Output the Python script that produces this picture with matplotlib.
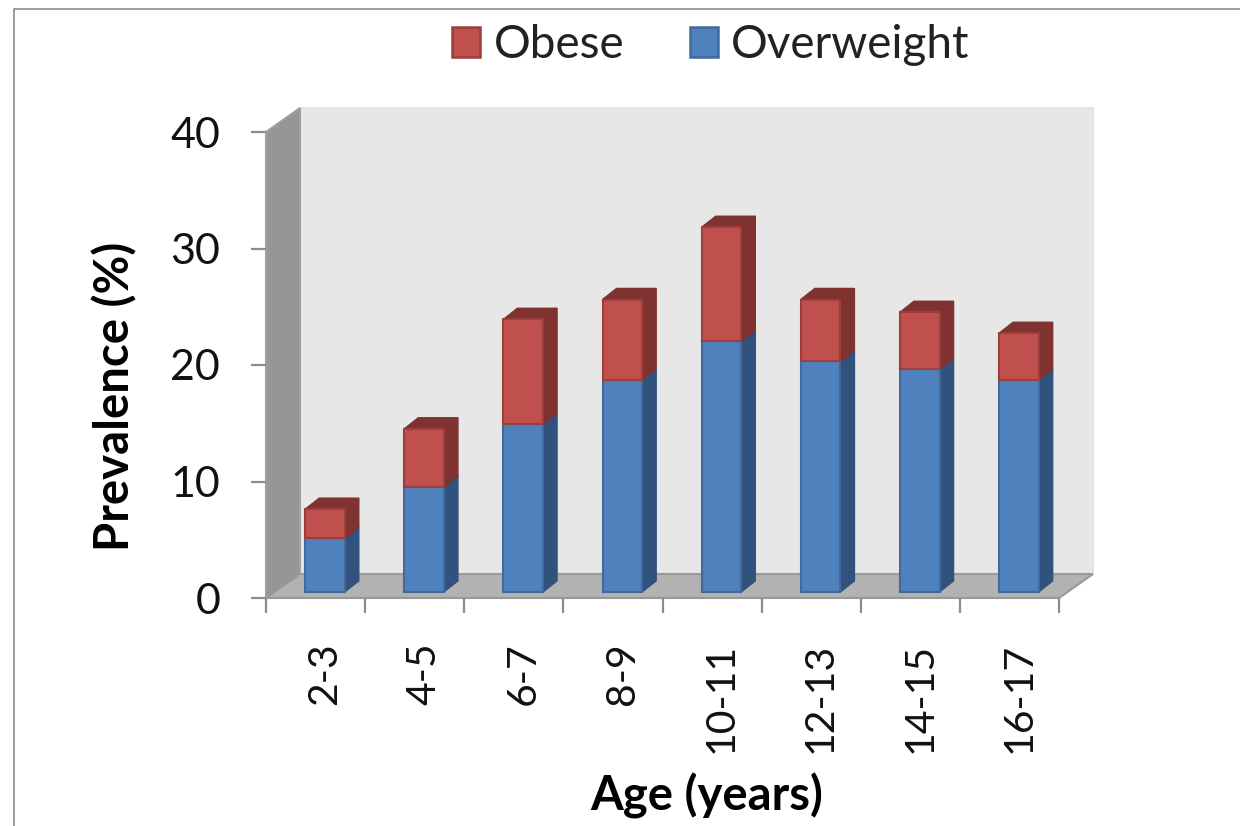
import numpy as np
import matplotlib
matplotlib.use('Agg')
import matplotlib.pyplot as plt
from matplotlib.patches import Patch
from matplotlib.lines import Line2D

# Data
ages = ['2-3', '4-5', '6-7', '8-9', '10-11', '12-13', '14-15', '16-17']
overweight = np.array([4.6, 9.0, 14.4, 18.2, 21.5, 19.8, 19.1, 18.2])
obese = np.array([2.5, 5.0, 9.0, 6.9, 9.8, 5.3, 4.9, 4.0])
y_ticks = [0, 10, 20, 30, 40]

plt.rcParams['font.family'] = ['Lato', 'DejaVu Sans']

# Colours
blue, blue_side, blue_edge = '#4f81bd', '#30527c', '#41699a'
red, red_side, red_edge = '#c0504d', '#7f3230', '#9c3e3b'
grey_line = '#8c8c8c'

fig = plt.figure(figsize=(12.4, 8.26), dpi=100)
ax = fig.add_axes([266 / 1240, 1 - 598 / 826, 793 / 1240, 466 / 826])
ax.set_xlim(0, len(ages))
ax.set_ylim(0, 40)
for s in ax.spines.values():
    s.set_visible(False)
ax.patch.set_visible(False)

# fake 3d depth, in data units
wall_dx, wall_dy = 0.343, 2.06
bar_dx, bar_dy = 14 / 99.1, 0.95
off_x, off_y = 0.095, 0.52
width = 0.40


def poly(xs, ys, color, edge=None, lw=1.5, z=2):
    ax.fill(xs, ys, facecolor=color, edgecolor=edge if edge else color,
            linewidth=lw, clip_on=False, zorder=z, joinstyle='miter')


n = len(ages)
poly([wall_dx, n + wall_dx, n + wall_dx, wall_dx],
     [wall_dy, wall_dy, 40 + wall_dy, 40 + wall_dy], '#e7e7e7', '#e0e0e0', 1.2, 1)
poly([0, wall_dx, wall_dx, 0], [0, wall_dy, 40 + wall_dy, 40], '#969696', '#a0a0a0', 1.5, 1)
poly([0, n, n + wall_dx, wall_dx], [0, 0, wall_dy, wall_dy], '#b2b2b2', '#999999', 1.5, 1)


def block(left, bottom, height, face, side, edge, z):
    right = left + width
    top = bottom + height
    poly([right, right + bar_dx, right + bar_dx, right],
         [bottom, bottom + bar_dy, top + bar_dy, top], side, side, 1, z)
    poly([left, left + bar_dx, right + bar_dx, right],
         [top, top + bar_dy, top + bar_dy, top], side, side, 1, z)
    ax.bar(left, height, width, bottom=bottom, align='edge', color=face,
           edgecolor=edge, linewidth=1.5, clip_on=False, zorder=z + 0.5)


for i in range(n):
    left = i + 0.5 - width / 2 + off_x
    block(left, off_y, overweight[i], blue, blue_side, blue_edge, 3)
    block(left, off_y + overweight[i], obese[i], red, red_side, red_edge, 4)

# axes
ax.set_yticks(y_ticks)
ax.set_xticks(np.arange(n + 1))
ax.set_xticklabels([])
ax.set_xticks(np.arange(n) + 0.5 + off_x, labels=ages, minor=True)
ax.tick_params(axis='both', which='major', length=11, width=1.6, color=grey_line)
ax.tick_params(axis='y', labelsize=31, pad=22, labelcolor='#111111')
ax.tick_params(axis='x', which='minor', length=0, pad=32, labelsize=29.5, labelrotation=90,
               labelcolor='#111111')
for lab in ax.get_xticklabels(minor=True):
    lab.set_verticalalignment('top')

ax.set_xlabel('Age (years)', fontsize=34, fontweight='bold')
ax.xaxis.set_label_coords((707 - 266) / 793, (598 - 796) / 466, transform=ax.transAxes)
ax.xaxis.label.set_verticalalignment('center')
ax.set_ylabel('Prevalence (%)', fontsize=34, fontweight='bold')
ax.yaxis.set_label_coords((115 - 266) / 793, (598 - 396) / 466, transform=ax.transAxes)
ax.yaxis.label.set_verticalalignment('center')

handles = [Patch(facecolor=red, edgecolor=red_edge, linewidth=1.8, label='Obese'),
           Patch(facecolor=blue, edgecolor=blue_edge, linewidth=1.8, label='Overweight')]
fig.legend(handles=handles, ncol=2, frameon=False, fontsize=33,
           loc='center', bbox_to_anchor=(711 / 1240, 1 - 45 / 826),
           handlelength=0.61, handleheight=0.61, handletextpad=0.3, columnspacing=1.42,
           labelcolor='#222222')

# outer border of the pasted image
fig.add_artist(Line2D([14 / 1240, 14 / 1240, 1], [0, 1 - 8.5 / 826, 1 - 8.5 / 826],
                      color='#8c8c8c', linewidth=1.2))

fig.savefig('out.png', dpi=100)
